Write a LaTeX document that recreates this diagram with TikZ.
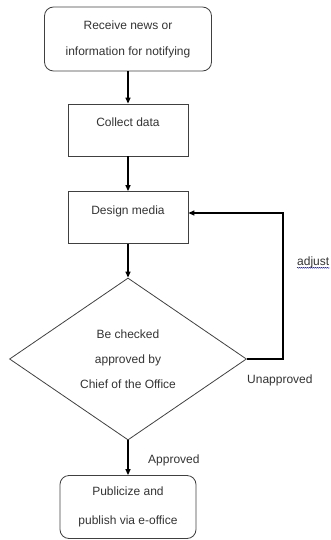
\documentclass[tikz,border=0pt]{standalone}
\usepackage{fontspec}
\setmainfont{Liberation Sans}
\usetikzlibrary{arrows.meta,shapes.geometric,decorations.pathmorphing}

\begin{document}
\begin{tikzpicture}[x=1pt,y=-1pt,
  box/.style={draw=black!75,line width=0.8pt,text=black!80,align=center,inner sep=0pt},
  term/.style={box,rounded corners=9pt},
  proc/.style={box,minimum width=120pt,minimum height=52pt,font=\fontsize{12}{12}\selectfont},
  check/.style={box,diamond,minimum width=237pt,minimum height=162pt,font=\fontsize{12}{25}\selectfont},
  flow/.style={-{Triangle[length=6pt,width=5pt]},line width=1.3pt},
  lbl/.style={font=\fontsize{12}{14}\selectfont,text=black!80,anchor=west,inner sep=0pt}]
\useasboundingbox (0,0) rectangle (331,540);
\node[term,minimum width=167pt,minimum height=64pt,font=\fontsize{12}{26}\selectfont] (news) at (128,39)
  {Receive news or\\information for notifying};
\node[proc] (collect) at (128,130) {Collect data\\\strut};
\node[proc] (design) at (128,217.5) {Design media\\\strut};
\node[check] (check) at (128,359) {Be checked\\approved by\\Chief of the Office};
\node[term,minimum width=136pt,minimum height=63pt,font=\fontsize{12}{29}\selectfont] (publish) at (128,507)
  {Publicize and\\publish via e-office};
\draw[flow] (news) -- (collect);
\draw[flow] (collect) -- (design);
\draw[flow] (design) -- (check);
\draw[flow] (check) -- (publish);
% loop back for changes
\coordinate (loop) at (283,213);
\draw[flow] (check.east) -| (loop) -- (design.east |- loop);
\node[lbl] (adjust) at (297,262) {adjust};
\draw[blue!60!black,line width=0.4pt,decorate,decoration={snake,amplitude=0.5pt,segment length=2pt}]
  (adjust.south west) -- (adjust.south east);
\node[lbl] (unapp) at (247,380) {Unapproved};
\node[lbl] (app) at (148,460) {Approved};
\end{tikzpicture}
\end{document}
